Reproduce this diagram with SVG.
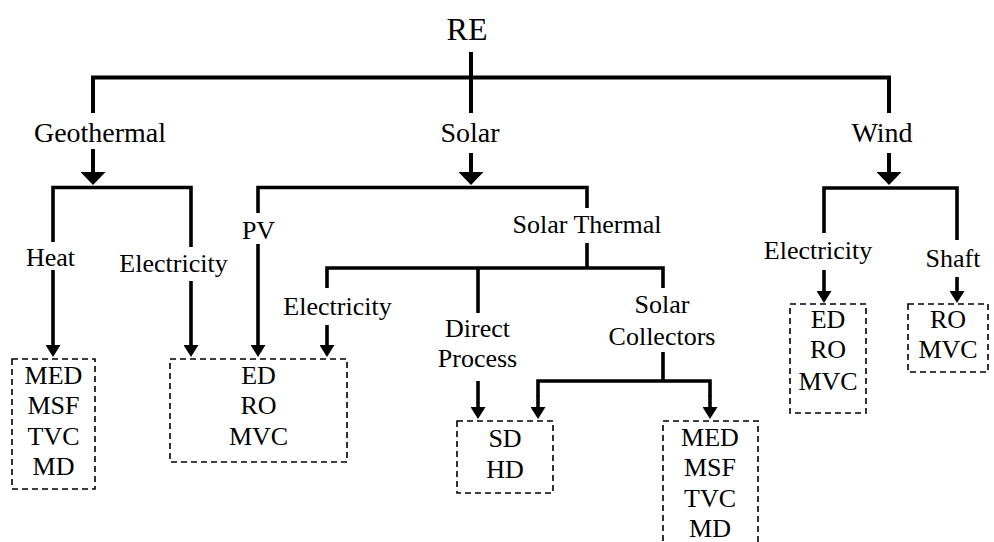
<svg xmlns="http://www.w3.org/2000/svg" width="994" height="542" viewBox="0 0 994 542">
<style>
text{font-family:"Liberation Serif","Times New Roman",serif;fill:#000;text-anchor:middle}
.l1{font-size:28px}
.lb{font-size:26px}
.c{fill:none;stroke:#000;stroke-width:3.6;stroke-linejoin:miter}
.c1{stroke-width:4}
.box{fill:none;stroke:#000;stroke-width:1.6;stroke-dasharray:6 4}
</style>
<defs>
<marker id="big" markerUnits="userSpaceOnUse" markerWidth="13" markerHeight="25" refX="1" refY="12.5" orient="auto"><path d="M0,0 L13,12.5 L0,25 z" fill="#000"/></marker>
<marker id="small" markerUnits="userSpaceOnUse" markerWidth="12" markerHeight="15" refX="1" refY="7.5" orient="auto"><path d="M0,0 L12,7.5 L0,15 z" fill="#000"/></marker>
</defs>
<g id="connectors">
<path class="c c1" d="M471,52 V113"/>
<path class="c c1" d="M93,113 V77.5 H889 V113"/>
<path class="c c1" d="M93,149 V173" marker-end="url(#big)"/>
<path class="c c1" d="M471,153 V173" marker-end="url(#big)"/>
<path class="c c1" d="M889,153 V173" marker-end="url(#big)"/>
<path class="c" d="M53,242 V187.5 H191 V247"/>
<path class="c" d="M53,270 V346" marker-end="url(#small)"/>
<path class="c" d="M191,281 V346" marker-end="url(#small)"/>
<path class="c" d="M258,213 V187.5 H587 V208"/>
<path class="c" d="M258,244 V346" marker-end="url(#small)"/>
<path class="c" d="M587,243 V268"/>
<path class="c" d="M327,288 V268 H663 V288"/>
<path class="c" d="M478,268 V313"/>
<path class="c" d="M327,325 V346" marker-end="url(#small)"/>
<path class="c" d="M663,352 V381"/>
<path class="c" d="M538,396 V381 H710 V396" />
<path class="c" d="M538,395 V408" marker-end="url(#small)"/>
<path class="c" d="M710,395 V408" marker-end="url(#small)"/>
<path class="c" d="M478,381 V408" marker-end="url(#small)"/>
<path class="c" d="M824,233 V188 H957 V240"/>
<path class="c" d="M824,270 V292" marker-end="url(#small)"/>
<path class="c" d="M957,277 V292" marker-end="url(#small)"/>
</g>
<g id="re"><text x="467" y="40" style="font-size:32px">RE</text></g>
<g id="geothermal"><text class="l1" x="100" y="142">Geothermal</text></g>
<g id="solar"><text class="l1" x="470" y="142">Solar</text></g>
<g id="wind"><text class="l1" x="882" y="142">Wind</text></g>
<g id="heat"><text class="lb" x="50.5" y="266">Heat</text></g>
<g id="geo-electricity"><text class="lb" x="173.5" y="272">Electricity</text></g>
<g id="pv"><text class="lb" x="258.5" y="239">PV</text></g>
<g id="solar-thermal"><text class="lb" x="587" y="233">Solar Thermal</text></g>
<g id="st-electricity"><text class="lb" x="337.5" y="315">Electricity</text></g>
<g id="direct-process"><text class="lb" x="477.5" y="337">Direct</text><text class="lb" x="477.5" y="367">Process</text></g>
<g id="solar-collectors"><text class="lb" x="662" y="313">Solar</text><text class="lb" x="662" y="345">Collectors</text></g>
<g id="wind-electricity"><text class="lb" x="818" y="259">Electricity</text></g>
<g id="shaft"><text class="lb" x="953" y="267">Shaft</text></g>
<g id="box-geo">
<rect class="box" x="12" y="359" width="83" height="130"/>
<text class="lb" x="53.5" y="384">MED</text><text class="lb" x="53.5" y="414">MSF</text><text class="lb" x="53.5" y="445">TVC</text><text class="lb" x="53.5" y="475">MD</text>
</g>
<g id="box-elec">
<rect class="box" x="170" y="359" width="177" height="103"/>
<text class="lb" x="258.5" y="384">ED</text><text class="lb" x="258.5" y="414">RO</text><text class="lb" x="258.5" y="445">MVC</text>
</g>
<g id="box-sd">
<rect class="box" x="457" y="421" width="96" height="72"/>
<text class="lb" x="505" y="447">SD</text><text class="lb" x="505" y="478">HD</text>
</g>
<g id="box-collectors">
<rect class="box" x="663" y="421" width="95" height="140"/>
<text class="lb" x="710" y="446">MED</text><text class="lb" x="710" y="476">MSF</text><text class="lb" x="710" y="507">TVC</text><text class="lb" x="710" y="537">MD</text>
</g>
<g id="box-wind-elec">
<rect class="box" x="790" y="304" width="76" height="109"/>
<text class="lb" x="828" y="328">ED</text><text class="lb" x="828" y="358">RO</text><text class="lb" x="828" y="390">MVC</text>
</g>
<g id="box-shaft">
<rect class="box" x="908" y="304" width="80" height="68"/>
<text class="lb" x="948" y="328">RO</text><text class="lb" x="948" y="358">MVC</text>
</g>
</svg>
